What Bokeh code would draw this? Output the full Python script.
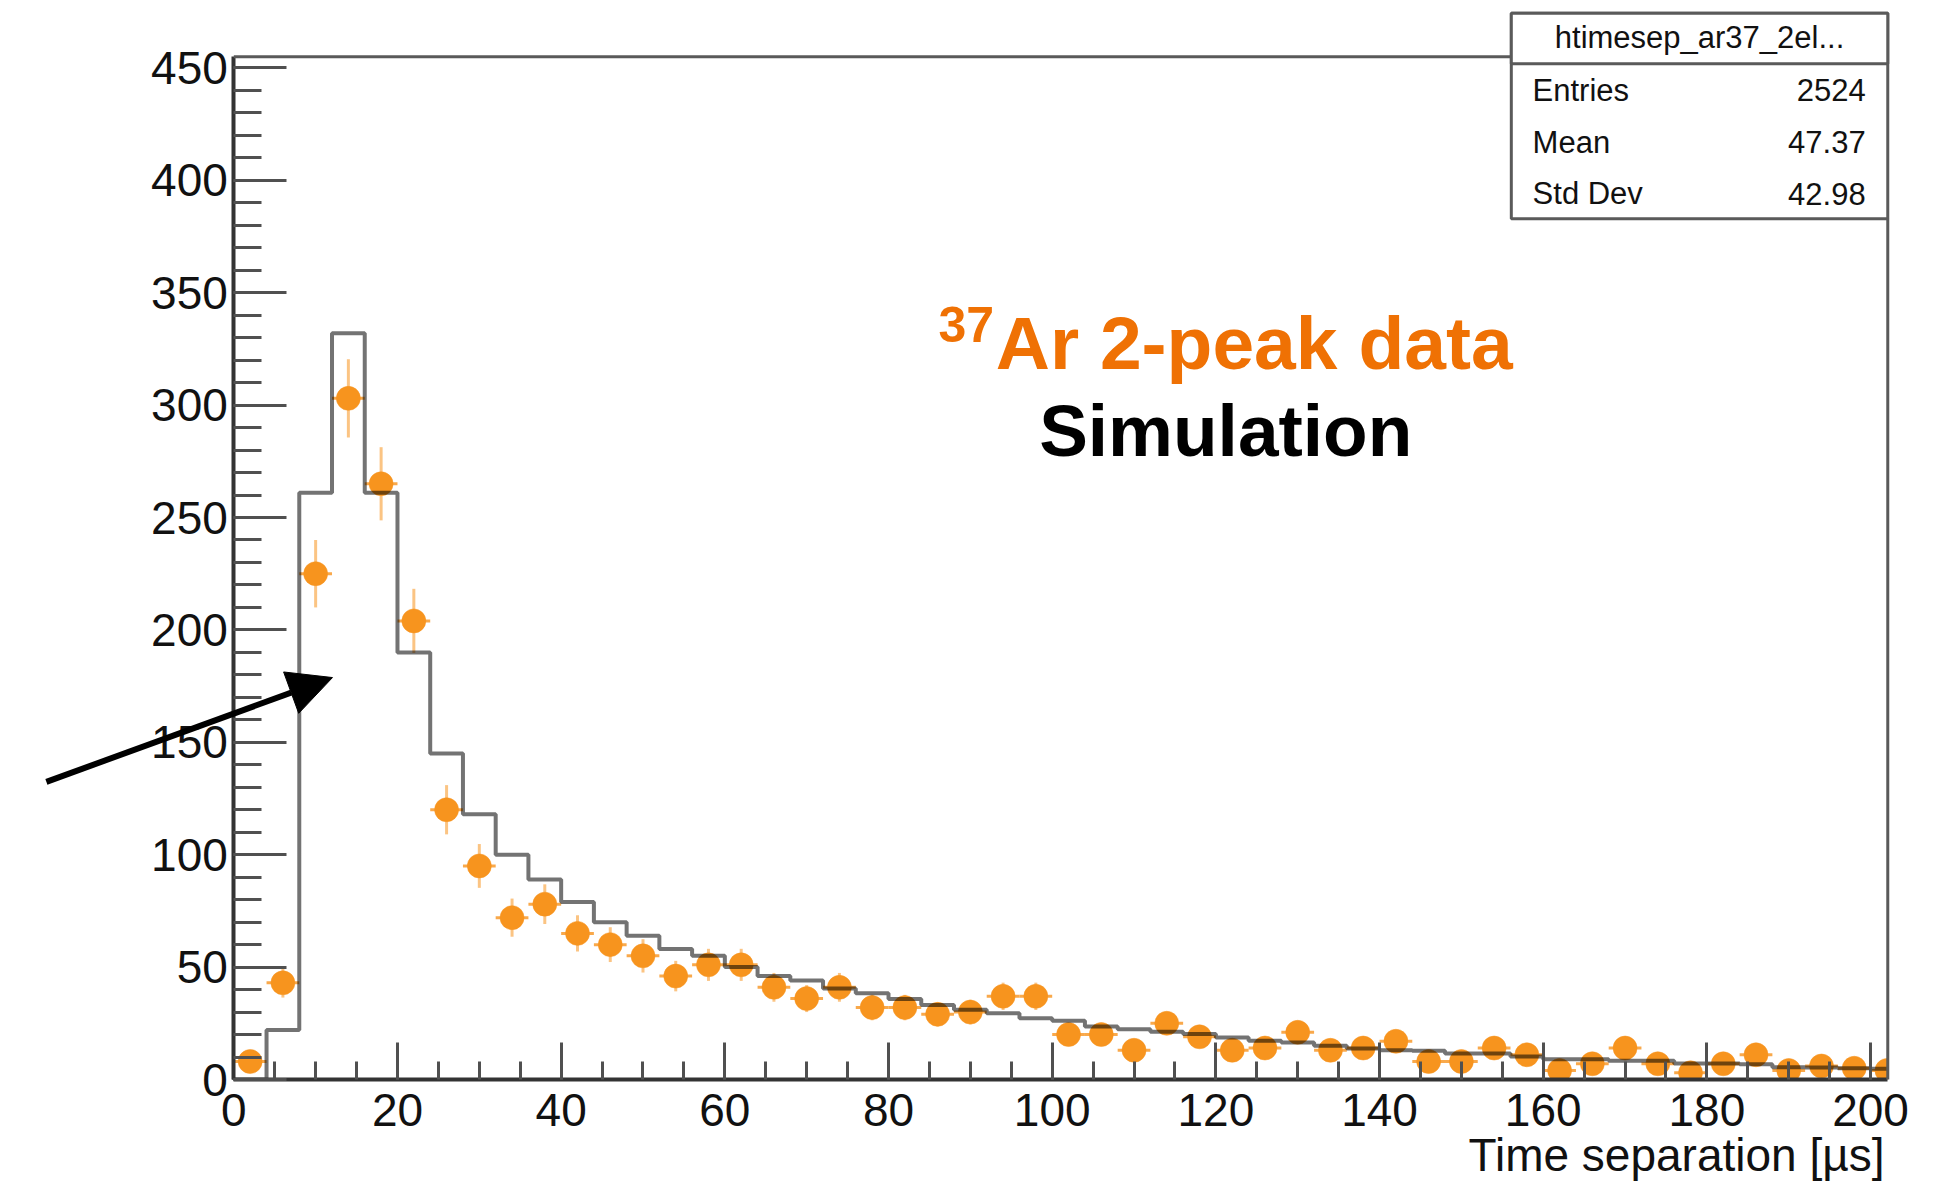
import math
from bokeh.plotting import figure
from bokeh.models import Range1d, FixedTicker, Label, BoxAnnotation, Arrow, NormalHead, ColumnDataSource
from bokeh.embed import file_html
from bokeh.resources import INLINE

# ---------------- data ----------------
bin_edges = list(range(0, 208, 4))          # 0 .. 204, 4 us bins
bin_centers = [e + 2 for e in bin_edges[:-1]]

data_counts = [8, 43, 225, 303, 265, 204, 120, 95, 72, 78,
               65, 60, 55, 46, 51, 51, 41, 36, 41, 32,
               32, 29, 30, 37, 37, 20, 20, 13, 25, 19,
               13, 14, 21, 13, 14, 17, 8, 8, 14, 11,
               4, 7, 14, 7, 3, 7, 11, 4, 6, 5, 4]

sim_counts = [0, 22, 261, 332, 261, 190, 145, 118, 100, 89,
              79, 70, 64, 58, 55, 50, 46, 44, 40.5, 38.4,
              35.8, 33.1, 31.0, 29.5, 27.2, 26.1, 23.6, 22.4, 21.2, 20.2,
              18.7, 17.2, 16.5, 15.0, 13.8, 13.0, 12.8, 11.6, 11.6, 10.2,
              9.0, 9.0, 8.3, 8.3, 7.1, 7.1, 6.8, 5.5, 5.3, 5.0, 4.8]

y_major = [0, 50, 100, 150, 200, 250, 300, 350, 400, 450]
y_minor = list(range(0, 460, 10))
x_major = [0, 20, 40, 60, 80, 100, 120, 140, 160, 180, 200]
x_minor = list(range(0, 205, 5))

stats_title = "htimesep_ar37_2el..."
stats_names = ["Entries", "Mean", "Std Dev"]
stats_values = ["2524", "47.37", "42.98"]

x_title = "Time separation [\u00b5s]"

X_MAX = 202.1     # right edge of the histogram frame
Y_MAX = 455.0     # top edge of the histogram frame

ORANGE = "#F7941E"
TEXT_ORANGE = "#EF7104"
FRAME = "#5a5a5a"
FONT = "Liberation Sans"

# ---------------- figure (frame = whole canvas, axes at fixed locations) ----------------
p = figure(width=1957, height=1181, output_backend="svg", toolbar_location=None,
           x_range=Range1d(-28.507, 210.62), y_range=Range1d(-45.37, 479.98),
           min_border_left=0, min_border_right=0,
           min_border_top=0, min_border_bottom=0)
p.background_fill_color = "white"
p.border_fill_color = "white"
p.outline_line_color = None
p.xgrid.grid_line_color = None
p.ygrid.grid_line_color = None

for ax, maj, mino, tin, tmin, bnd in [(p.xaxis, x_major, x_minor, 37, 18, (0, X_MAX)),
                                       (p.yaxis, y_major, y_minor, 53, 28, (0, Y_MAX))]:
    ax.fixed_location = 0
    ax.bounds = bnd
    ax.ticker = FixedTicker(ticks=maj, minor_ticks=mino)
    ax.major_tick_in = tin
    ax.major_tick_out = 0
    ax.minor_tick_in = tmin
    ax.minor_tick_out = 0
    ax.axis_line_color = "#333333"
    ax.axis_line_width = 4
    ax.major_tick_line_color = "#505050"
    ax.major_tick_line_width = 3
    ax.minor_tick_line_color = "#505050"
    ax.minor_tick_line_width = 3
    ax.major_label_text_font = FONT
    ax.major_label_text_font_size = "46px"
    ax.major_label_text_color = "#111111"

p.xaxis.major_label_standoff = 14
p.yaxis.major_label_standoff = 6

# ---------------- data points with error bars ----------------
errs = [math.sqrt(c) for c in data_counts]
src = ColumnDataSource(dict(
    x=bin_centers, y=data_counts,
    ylo=[c - e for c, e in zip(data_counts, errs)],
    yhi=[c + e for c, e in zip(data_counts, errs)],
    xlo=[c - 2 for c in bin_centers],
    xhi=[c + 2 for c in bin_centers],
))
p.segment(x0="x", y0="ylo", x1="x", y1="yhi", source=src,
          line_color=ORANGE, line_alpha=0.55, line_width=3, level="underlay")
p.segment(x0="xlo", y0="y", x1="xhi", y1="y", source=src,
          line_color=ORANGE, line_alpha=0.8, line_width=3, level="underlay")
p.scatter(x="x", y="y", source=src, size=24, marker="circle",
          fill_color=ORANGE, line_color=ORANGE, line_alpha=0.5, level="underlay")

# ---------------- simulation histogram ----------------
p.step(x=bin_edges, y=sim_counts + [sim_counts[-1]], mode="after",
       line_color="black", line_alpha=0.55, line_width=4, level="underlay")

# masks that clip the histogram content to its frame
p.add_layout(BoxAnnotation(left=X_MAX, fill_color="white", fill_alpha=1.0,
                           line_color=None, level="glyph"))
p.add_layout(BoxAnnotation(top=0, fill_color="white", fill_alpha=1.0,
                           line_color=None, level="glyph"))

# top and right frame lines
p.segment(x0=[0, X_MAX], y0=[Y_MAX, 0], x1=[156.1, X_MAX], y1=[Y_MAX, 382.9],
          line_color=FRAME, line_width=3, level="overlay")

# ---------------- texts ----------------
p.add_layout(Label(x=201.7, y=-33.5, text=x_title, text_align="right",
                   text_baseline="alphabetic", text_font=FONT,
                   text_font_size="46px", text_color="#111111"))

p.add_layout(Label(x=86.1, y=336.0, text="37", text_align="left",
                   text_baseline="alphabetic", text_font=FONT,
                   text_font_size="50px", text_font_style="bold",
                   text_color=TEXT_ORANGE))
p.add_layout(Label(x=93.1, y=327.5, text="Ar 2-peak data", text_align="left",
                   text_baseline="alphabetic", text_font=FONT,
                   text_font_size="75px", text_font_style="bold",
                   text_color=TEXT_ORANGE))
p.add_layout(Label(x=121.2, y=288.6, text="Simulation", text_align="center",
                   text_baseline="alphabetic", text_font=FONT,
                   text_font_size="73px", text_font_style="bold",
                   text_color="black"))

# ---------------- stats box ----------------
p.add_layout(BoxAnnotation(left=156.1, right=X_MAX, top=474.3, bottom=382.9,
                           fill_color="white", fill_alpha=1.0,
                           line_color=FRAME, line_alpha=1.0, line_width=3,
                           level="overlay"))
p.add_layout(BoxAnnotation(left=156.1, right=X_MAX, top=474.3, bottom=451.8,
                           fill_color="white", fill_alpha=1.0,
                           line_color=FRAME, line_alpha=1.0, line_width=3,
                           level="overlay"))
p.add_layout(Label(x=179.1, y=463.3, text=stats_title, text_align="center",
                   text_baseline="alphabetic", text_font=FONT,
                   text_font_size="31px", text_color="#111111", level="overlay"))
for i, (nm, vl) in enumerate(zip(stats_names, stats_values)):
    yy = 440.0 - i * 23.0
    p.add_layout(Label(x=158.7, y=yy, text=nm, text_align="left",
                       text_baseline="alphabetic", text_font=FONT,
                       text_font_size="31px", text_color="#111111", level="overlay"))
    p.add_layout(Label(x=199.4, y=yy, text=vl, text_align="right",
                       text_baseline="alphabetic", text_font=FONT,
                       text_font_size="31px", text_color="#111111", level="overlay"))

# ---------------- arrow ----------------
p.add_layout(Arrow(x_start=-22.9, y_start=132.4, x_end=12.06, y_end=178.8,
                   line_color="black", line_width=6,
                   end=NormalHead(size=44, fill_color="black", line_color="black"),
                   level="overlay"))

open("out.html", "w").write(file_html(p, INLINE))
